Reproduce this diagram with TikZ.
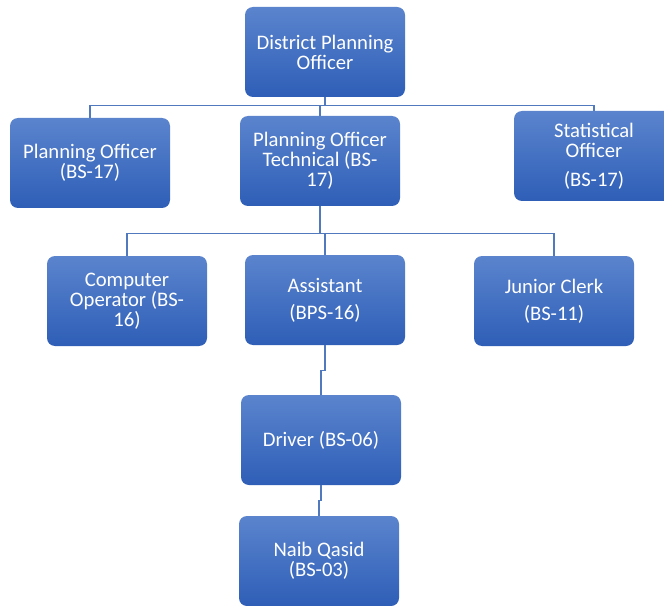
\documentclass[tikz,border=0pt]{standalone}
\usepackage{fontspec}
\setmainfont{Carlito}
\usetikzlibrary{positioning}
\definecolor{boxtop}{HTML}{5B84CD}
\definecolor{boxbot}{HTML}{2E5EB7}
\definecolor{linkblue}{HTML}{5079BE}

\begin{document}
\begin{tikzpicture}[
        x=0.75pt, y=-0.75pt,
        office/.style={rectangle, rounded corners=6pt, top color=boxtop, bottom color=boxbot,
            draw=none, text=white, align=center, inner sep=2pt,
            minimum width=120pt, minimum height=67.5pt,
            font=\fontsize{15.5}{15}\selectfont},
        link/.style={draw=linkblue, line width=1pt}
    ]
    \useasboundingbox (0,0) rectangle (664,606);
    \node[office] (dpo) at (325,52) {District Planning\\Officer};
    \node[office] (po) at (90,163) {Planning Officer\\(BS-17)};
    \node[office] (pot) at (320,161) {Planning Officer\\Technical (BS-\\17)};
    \node[office] (so) at (594,156) {Statistical\\Officer\\[7pt](BS-17)};
    \node[office] (co) at (127,301) {Computer\\Operator (BS-\\16)};
    \node[office] (asst) at (325,300) {Assistant\\[5pt](BPS-16)};
    \node[office] (jc) at (554,301) {Junior Clerk\\[5pt](BS-11)};
    \node[office] (drv) at (321,440) {Driver (BS-06)};
    \node[office] (nq) at (319,561) {Naib Qasid\\(BS-03)};

    \draw[link] (dpo.south) -- ++(0,8) -| (po.north);
    \draw[link] (dpo.south) -- ++(0,8) -| (pot.north);
    \draw[link] (dpo.south) -- ++(0,8) -| (so.north);
    \draw[link] (pot.south) -- ++(0,27) -| (co.north);
    \draw[link] (pot.south) -- ++(0,27) -| (asst.north);
    \draw[link] (pot.south) -- ++(0,27) -| (jc.north);
    \draw[link] (asst.south) -- ++(0,25) -| (drv.north);
    \draw[link] (drv.south) -- ++(0,15) -| (nq.north);
\end{tikzpicture}
\end{document}
